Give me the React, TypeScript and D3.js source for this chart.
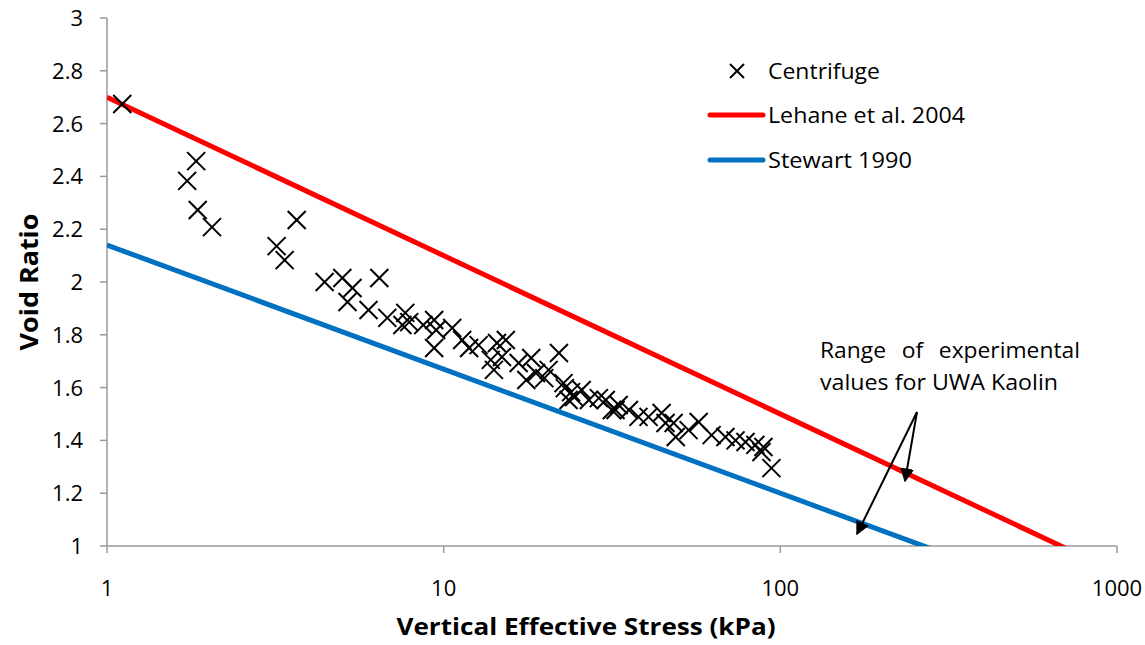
import React from "react";
import * as d3 from "d3";

const stressTicks = [1, 10, 100, 1000];
const ratioTicks = [1, 1.2, 1.4, 1.6, 1.8, 2, 2.2, 2.4, 2.6, 2.8, 3];

// Centrifuge data: vertical effective stress (kPa), void ratio
const centrifugeStress = [
  1.11, 1.84, 1.73, 1.86, 2.05, 3.66, 3.19, 3.37, 4.43, 5.0, 6.44, 5.36, 5.18, 5.98, 6.8, 7.69,
  7.54, 7.9, 8.7, 9.37, 9.5, 9.37, 10.6, 11.35, 11.9, 12.7, 13.8, 14.4, 15.3, 14.1, 14.9, 16.7,
  18.2, 18.8, 17.6, 20.5, 22.0, 22.7, 24.4, 23.5, 25.7, 27.0, 30.3, 32.4, 35.5, 37.9, 31.6, 40.6,
  44.4, 45.6, 48.2, 48.9, 53.4, 57.2, 62.5, 68.7, 73.6, 78.8, 84.3, 89.1, 87.9, 94.1, 22.9, 23.9,
  28.9, 33.1, 19.9,
];
const centrifugeRatio = [
  2.674, 2.458, 2.383, 2.273, 2.208, 2.235, 2.136, 2.083, 2.0, 2.015, 2.015, 1.977, 1.924, 1.894,
  1.864, 1.883, 1.837, 1.848, 1.837, 1.856, 1.818, 1.75, 1.826, 1.78, 1.75, 1.761, 1.705, 1.769,
  1.78, 1.667, 1.716, 1.693, 1.712, 1.655, 1.629, 1.667, 1.731, 1.617, 1.564, 1.553, 1.591, 1.553,
  1.553, 1.515, 1.515, 1.489, 1.515, 1.489, 1.504, 1.466, 1.466, 1.413, 1.439, 1.47, 1.42, 1.413,
  1.4, 1.394, 1.383, 1.375, 1.356, 1.295, 1.598, 1.583, 1.56, 1.534, 1.636,
];

// Reference lines
const lehaneStress = [1, 1000];
const lehaneRatio = [2.7, 0.9];
const stewartStress = [1, 1000];
const stewartRatio = [2.14, 0.73];

const W = 1145;
const H = 645;
const margin = { left: 107, right: 28, top: 18, bottom: 99 };

export default function App() {
  const x = d3.scaleLog().domain([1, 1000]).range([margin.left, W - margin.right]);
  const y = d3.scaleLinear().domain([1, 3]).range([H - margin.bottom, margin.top]);
  const line = d3
    .line<[number, number]>()
    .x((d) => x(d[0]))
    .y((d) => y(d[1]));

  const lehane = lehaneStress.map((s, i) => [s, lehaneRatio[i]] as [number, number]);
  const stewart = stewartStress.map((s, i) => [s, stewartRatio[i]] as [number, number]);
  const pts = centrifugeStress.map((s, i) => [s, centrifugeRatio[i]] as [number, number]);

  const font = "Open Sans, sans-serif";
  const axisColor = "#9a9a9a";
  const x0 = margin.left;
  const x1 = W - margin.right;
  const y0 = margin.top;
  const y1 = H - margin.bottom;
  const m = 9;

  return (
    <svg
      width={W}
      height={H}
      style={{ position: "absolute", left: 0, top: 0, background: "#fff" }}
      fontFamily={font}
    >
      <defs>
        <clipPath id="plot">
          <rect x={x0} y={y0} width={x1 - x0} height={y1 - y0} />
        </clipPath>
        <marker id="arrow" viewBox="0 0 10 10" refX="9" refY="5" markerWidth="7" markerHeight="7" orient="auto">
          <path d="M0,0 L10,5 L0,10 z" fill="#000" />
        </marker>
      </defs>

      {/* axes */}
      <line x1={x0} y1={y0} x2={x0} y2={y1} stroke={axisColor} strokeWidth={1.5} />
      <line x1={x0} y1={y1} x2={x1} y2={y1} stroke={axisColor} strokeWidth={1.5} />
      {ratioTicks.map((t) => (
        <g key={"y" + t}>
          <line x1={x0 - 7} x2={x0} y1={y(t)} y2={y(t)} stroke={axisColor} strokeWidth={1.5} />
          <text x={x0 - 24} y={y(t)} dy="0.36em" textAnchor="end" fontSize={22} fill="#000">
            {t}
          </text>
        </g>
      ))}
      {stressTicks.map((t) => (
        <g key={"x" + t}>
          <line x1={x(t)} x2={x(t)} y1={y1} y2={y1 + 7} stroke={axisColor} strokeWidth={1.5} />
          <text x={x(t)} y={y1 + 42} dy="0.36em" textAnchor="middle" fontSize={22} fill="#000">
            {t}
          </text>
        </g>
      ))}

      {/* axis titles */}
      <text
        x={586}
        y={626}
        dy="0.36em"
        textAnchor="middle"
        fontSize={24}
        fontWeight="bold"
        fill="#000"
        textLength={379}
        lengthAdjust="spacingAndGlyphs"
      >
        Vertical Effective Stress (kPa)
      </text>
      <text
        transform={`translate(29,${(y0 + y1) / 2}) rotate(-90)`}
        dy="0.36em"
        textAnchor="middle"
        fontSize={25}
        fontWeight="bold"
        fill="#000"
        textLength={137}
        lengthAdjust="spacingAndGlyphs"
      >
        Void Ratio
      </text>

      {/* lines */}
      <g clipPath="url(#plot)">
        <path d={line(lehane) || ""} fill="none" stroke="#ff0000" strokeWidth={5} />
        <path d={line(stewart) || ""} fill="none" stroke="#0070c0" strokeWidth={5} />
      </g>

      {/* points */}
      <g stroke="#000" strokeWidth={2}>
        {pts.map((p, i) => {
          const cx = x(p[0]);
          const cy = y(p[1]);
          return (
            <g key={i}>
              <line x1={cx - m} y1={cy - m} x2={cx + m} y2={cy + m} />
              <line x1={cx - m} y1={cy + m} x2={cx + m} y2={cy - m} />
            </g>
          );
        })}
      </g>

      {/* legend */}
      <g fontSize={22} fill="#000">
        <g stroke="#000" strokeWidth={2}>
          <line x1={737 - 7} y1={71 - 7} x2={737 + 7} y2={71 + 7} />
          <line x1={737 - 7} y1={71 + 7} x2={737 + 7} y2={71 - 7} />
        </g>
        <text x={768} y={71} dy="0.36em" textLength={112} lengthAdjust="spacingAndGlyphs">Centrifuge</text>
        <line x1={710} x2={763} y1={115} y2={115} stroke="#ff0000" strokeWidth={5} strokeLinecap="round" />
        <text x={768} y={115} dy="0.36em" textLength={197} lengthAdjust="spacingAndGlyphs">Lehane et al. 2004</text>
        <line x1={710} x2={763} y1={160} y2={160} stroke="#0070c0" strokeWidth={5} strokeLinecap="round" />
        <text x={768} y={160} dy="0.36em" textLength={144} lengthAdjust="spacingAndGlyphs">Stewart 1990</text>
      </g>

      {/* annotation */}
      <g fontSize={21} fill="#000">
        <text x={820} y={350} dy="0.36em" wordSpacing={9} textLength={260} lengthAdjust="spacingAndGlyphs">
          Range of experimental
        </text>
        <text x={820} y={382} dy="0.36em" textLength={238} lengthAdjust="spacingAndGlyphs">values for UWA Kaolin</text>
      </g>
      <g stroke="#000" strokeWidth={2} fill="none">
        <line x1={917} y1={412} x2={857} y2={534} markerEnd="url(#arrow)" />
        <line x1={917} y1={412} x2={905} y2={481} markerEnd="url(#arrow)" />
      </g>
    </svg>
  );
}
